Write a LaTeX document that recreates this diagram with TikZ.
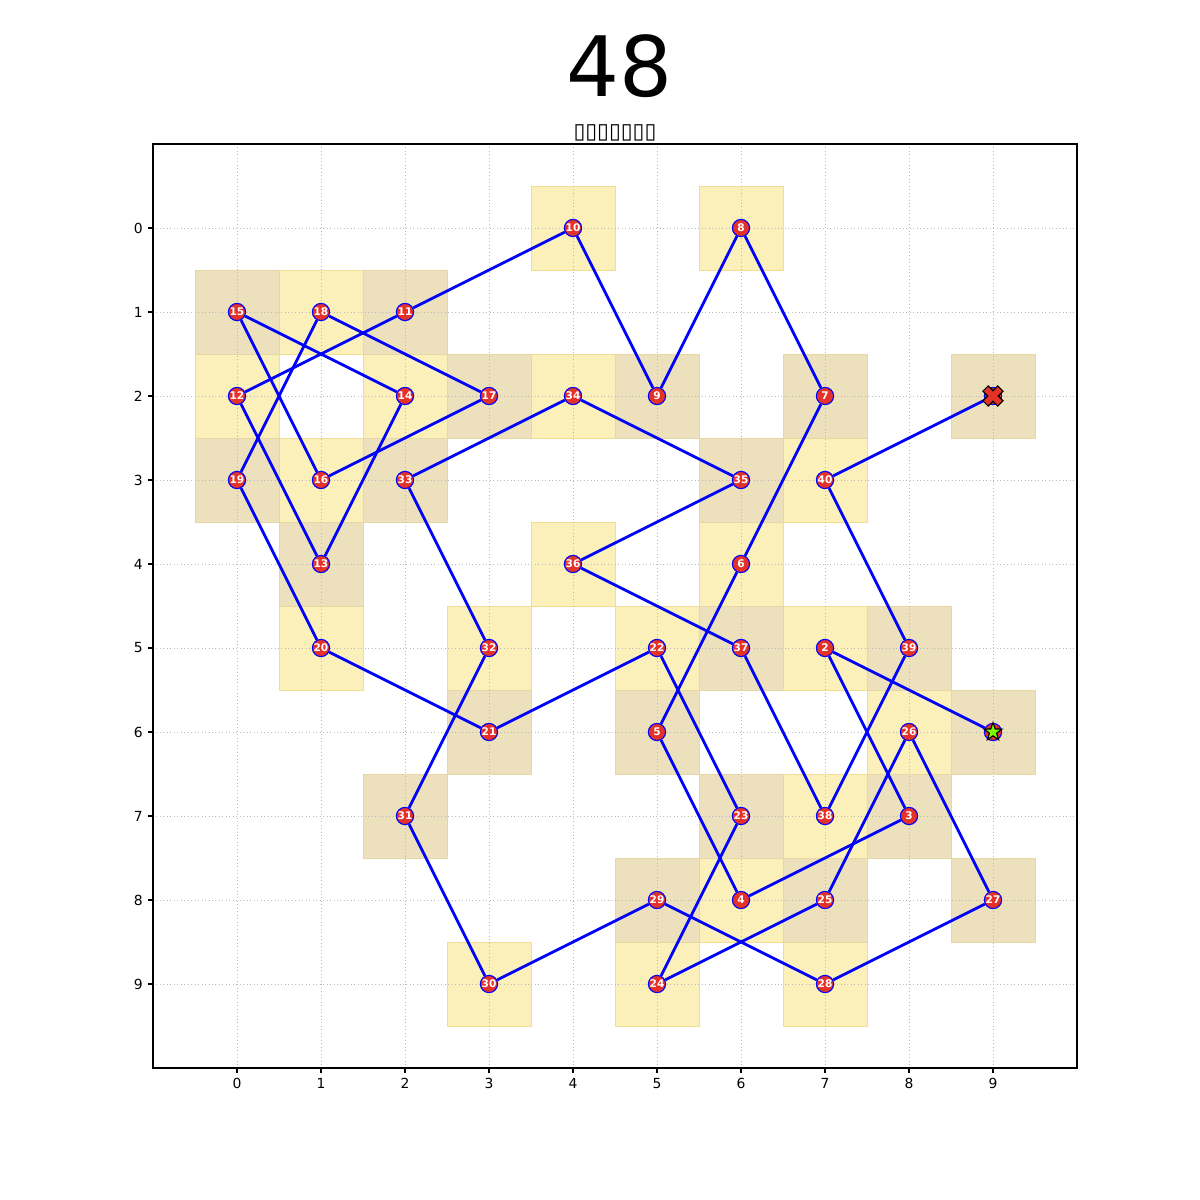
\documentclass[tikz,border=0pt]{standalone}
\usepackage{fontspec}
\setmainfont{DejaVu Sans}
\usepackage{tikz}
\usetikzlibrary{shapes.geometric,backgrounds}
\definecolor{stopred}{HTML}{E53228}
\definecolor{pathblue}{HTML}{0000FF}
\definecolor{cellgold}{HTML}{FCF0BA}
\definecolor{cellgoldedge}{HTML}{F2DE92}
\definecolor{celltan}{HTML}{EDE1BD}
\definecolor{celltanedge}{HTML}{E6D7A4}
\definecolor{startgreen}{HTML}{7CFC00}

\begin{document}
\begin{tikzpicture}[
  x=60.48pt, y=-60.48pt,
  font=\fontsize{10}{12}\selectfont,
  stop/.style={circle, fill=stopred, draw=pathblue, line width=0.8pt,
    minimum size=12.4pt, inner sep=0pt, text=white,
    font=\bfseries\fontsize{7.6}{8}\selectfont},
  startstar/.style={star, star points=5, star point ratio=2.5, fill=startgreen,
    draw=black, line width=0.8pt, minimum size=13.6pt, inner sep=0pt},
  route/.style={line width=2pt, draw=pathblue},
  goldcell/.style={fill=cellgold, draw=cellgoldedge, line width=0.7pt},
  tancell/.style={fill=celltan, draw=celltanedge, line width=0.7pt},
  gridline/.style={draw=gray!55, dotted, line width=0.5pt},
  tickmark/.style={line width=0.8pt},
]
\useasboundingbox (-2.8214,-2.7143) rectangle (11.4643,11.5714);

% title and subtitle
\node[anchor=base, inner sep=0pt, font=\fontsize{60}{72}\selectfont] (title) at (4.548,-1.571) {48};
\node[anchor=base, inner sep=0pt, font=\fontsize{15.5}{18}\selectfont] (subtitle) at (4.5,-1.071) {▯▯▯▯▯▯▯};

\begin{scope}[on background layer]
  \foreach \c/\r in {4/0, 6/0, 1/1, 0/2, 2/2, 4/2, 1/3, 7/3, 4/4, 6/4, 1/5, 3/5,
      5/5, 7/5, 8/6, 7/7, 6/8, 3/9, 5/9, 7/9}
    \draw[goldcell] ({\c-0.5},{\r-0.5}) rectangle ({\c+0.5},{\r+0.5});
  \foreach \c/\r in {0/1, 2/1, 3/2, 5/2, 7/2, 9/2, 0/3, 2/3, 6/3, 1/4, 6/5, 8/5,
      3/6, 5/6, 9/6, 2/7, 6/7, 8/7, 5/8, 7/8, 9/8}
    \draw[tancell] ({\c-0.5},{\r-0.5}) rectangle ({\c+0.5},{\r+0.5});
  \foreach \i in {0,...,9} {
    \draw[gridline] (\i,-1) -- (\i,10);
    \draw[gridline] (-1,\i) -- (10,\i);
  }
\end{scope}

% axes frame and ticks
\draw[line width=0.8pt] (-1,-1) rectangle (10,10);
\foreach \i in {0,...,9} {
  \draw[tickmark] (\i,10) -- ++(0,-3.5pt) node[anchor=north, inner sep=0pt, yshift=-3.5pt] {\i};
  \draw[tickmark] (-1,\i) -- ++(-3.5pt,0) node[anchor=east, inner sep=0pt, xshift=-3.5pt] {\i};
}

% stops of the tour
\node[stop] (n1)  at (9,6) {};
\node[stop] (n2)  at (7,5) {2};
\node[stop] (n3)  at (8,7) {3};
\node[stop] (n4)  at (6,8) {4};
\node[stop] (n5)  at (5,6) {5};
\node[stop] (n6)  at (6,4) {6};
\node[stop] (n7)  at (7,2) {7};
\node[stop] (n8)  at (6,0) {8};
\node[stop] (n9)  at (5,2) {9};
\node[stop] (n10) at (4,0) {10};
\node[stop] (n11) at (2,1) {11};
\node[stop] (n12) at (0,2) {12};
\node[stop] (n13) at (1,4) {13};
\node[stop] (n14) at (2,2) {14};
\node[stop] (n15) at (0,1) {15};
\node[stop] (n16) at (1,3) {16};
\node[stop] (n17) at (3,2) {17};
\node[stop] (n18) at (1,1) {18};
\node[stop] (n19) at (0,3) {19};
\node[stop] (n20) at (1,5) {20};
\node[stop] (n21) at (3,6) {21};
\node[stop] (n22) at (5,5) {22};
\node[stop] (n23) at (6,7) {23};
\node[stop] (n24) at (5,9) {24};
\node[stop] (n25) at (7,8) {25};
\node[stop] (n26) at (8,6) {26};
\node[stop] (n27) at (9,8) {27};
\node[stop] (n28) at (7,9) {28};
\node[stop] (n29) at (5,8) {29};
\node[stop] (n30) at (3,9) {30};
\node[stop] (n31) at (2,7) {31};
\node[stop] (n32) at (3,5) {32};
\node[stop] (n33) at (2,3) {33};
\node[stop] (n34) at (4,2) {34};
\node[stop] (n35) at (6,3) {35};
\node[stop] (n36) at (4,4) {36};
\node[stop] (n37) at (6,5) {37};
\node[stop] (n38) at (7,7) {38};
\node[stop] (n39) at (8,5) {39};
\node[stop] (n40) at (7,3) {40};
\node[stop] (end) at (9,2) {};

% start and end markers
\node[startstar] (startmark) at (n1) {};
\filldraw[fill=stopred, draw=black, line width=0.8pt, shift={(end.center)}, rotate=45, x=0.72pt, y=0.72pt]
  (3.7,10.5) -- (3.7,3.7) -- (10.5,3.7) -- (10.5,-3.7) -- (3.7,-3.7) -- (3.7,-10.5)
  -- (-3.7,-10.5) -- (-3.7,-3.7) -- (-10.5,-3.7) -- (-10.5,3.7) -- (-3.7,3.7) -- (-3.7,10.5) -- cycle;

\begin{scope}[on background layer]
  \draw[route] (n1) -- (n2);   \draw[route] (n2) -- (n3);   \draw[route] (n3) -- (n4);
  \draw[route] (n4) -- (n5);   \draw[route] (n5) -- (n6);   \draw[route] (n6) -- (n7);
  \draw[route] (n7) -- (n8);   \draw[route] (n8) -- (n9);   \draw[route] (n9) -- (n10);
  \draw[route] (n10) -- (n11); \draw[route] (n11) -- (n12); \draw[route] (n12) -- (n13);
  \draw[route] (n13) -- (n14); \draw[route] (n14) -- (n15); \draw[route] (n15) -- (n16);
  \draw[route] (n16) -- (n17); \draw[route] (n17) -- (n18); \draw[route] (n18) -- (n19);
  \draw[route] (n19) -- (n20); \draw[route] (n20) -- (n21); \draw[route] (n21) -- (n22);
  \draw[route] (n22) -- (n23); \draw[route] (n23) -- (n24); \draw[route] (n24) -- (n25);
  \draw[route] (n25) -- (n26); \draw[route] (n26) -- (n27); \draw[route] (n27) -- (n28);
  \draw[route] (n28) -- (n29); \draw[route] (n29) -- (n30); \draw[route] (n30) -- (n31);
  \draw[route] (n31) -- (n32); \draw[route] (n32) -- (n33); \draw[route] (n33) -- (n34);
  \draw[route] (n34) -- (n35); \draw[route] (n35) -- (n36); \draw[route] (n36) -- (n37);
  \draw[route] (n37) -- (n38); \draw[route] (n38) -- (n39); \draw[route] (n39) -- (n40);
  \draw[route] (n40) -- (end);
\end{scope}
\end{tikzpicture}
\end{document}
